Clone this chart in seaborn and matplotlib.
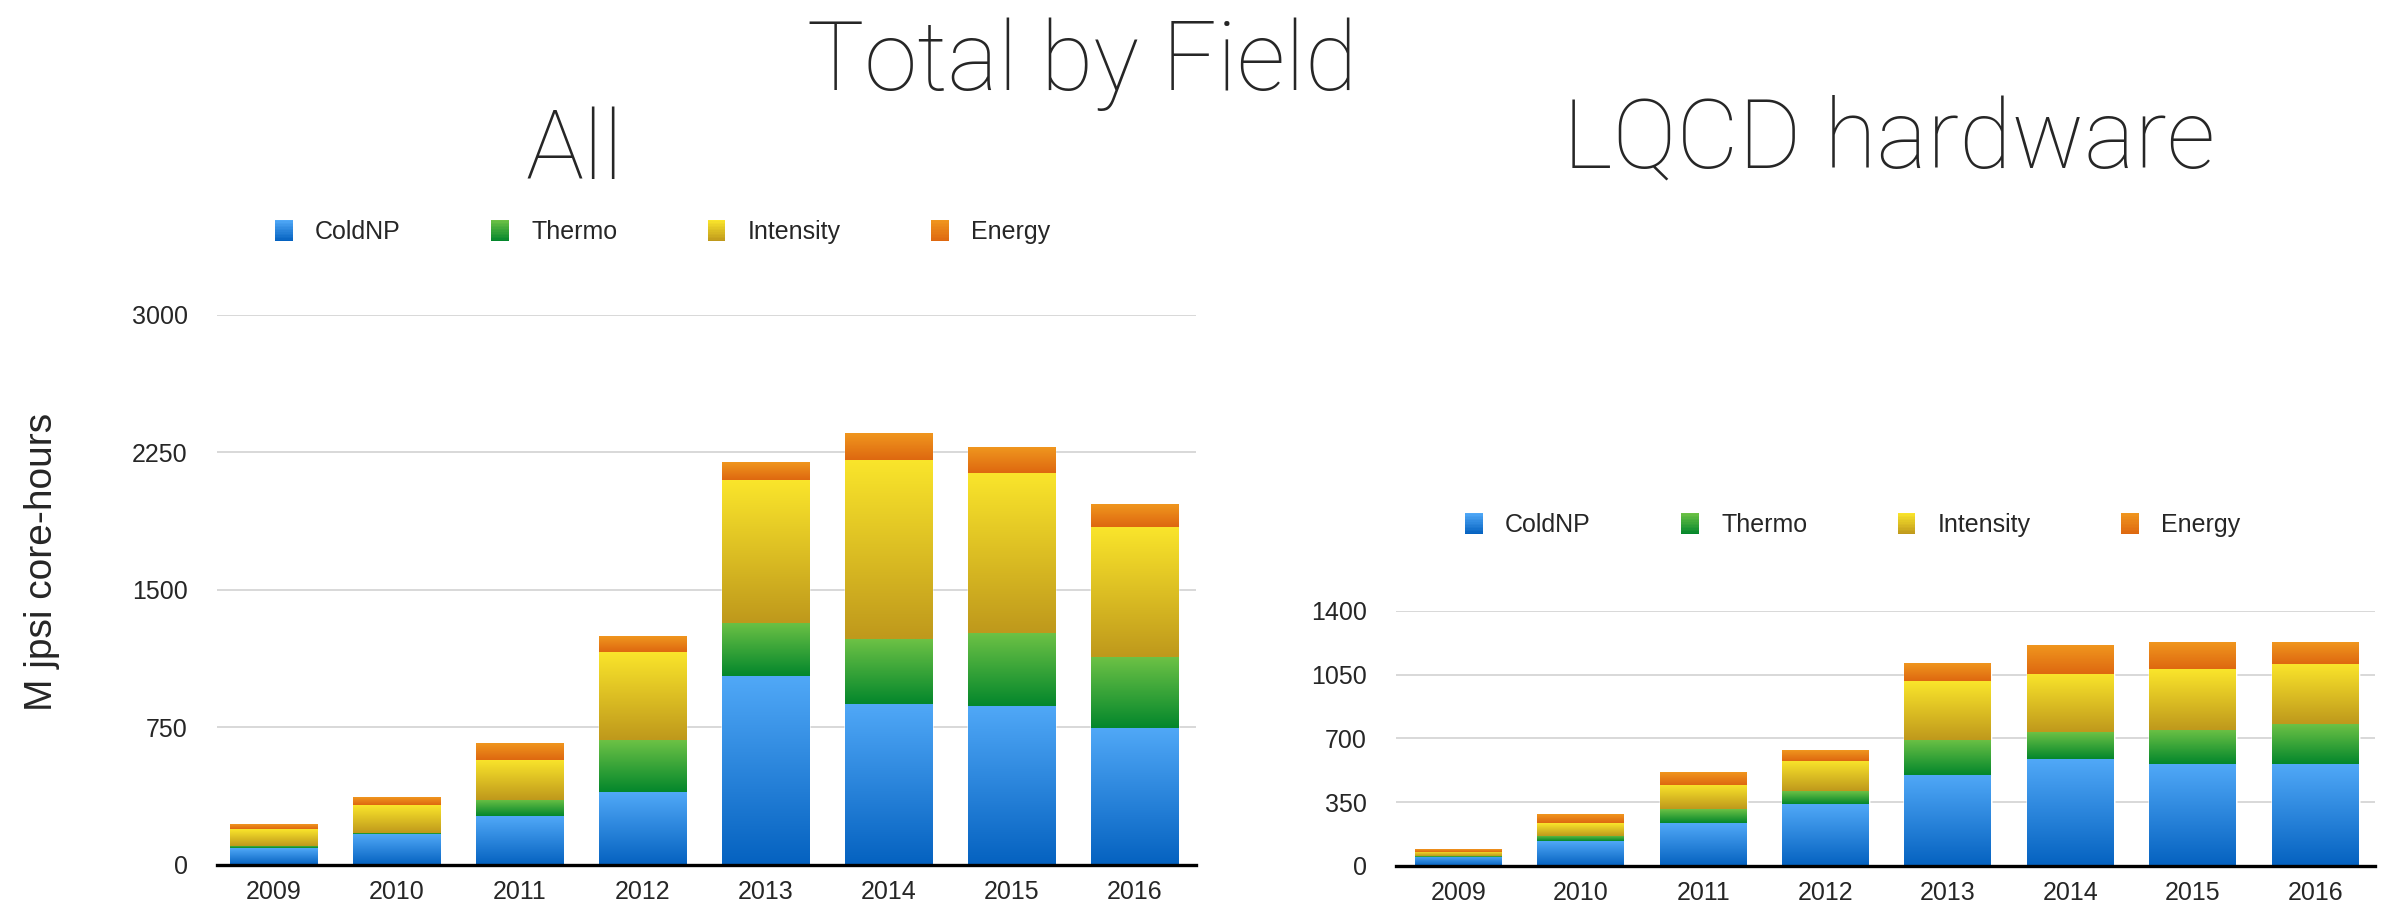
import numpy as np
import matplotlib
matplotlib.use("Agg")
import matplotlib.pyplot as plt
import seaborn as sns
from matplotlib.colors import to_rgb
from matplotlib.patches import Rectangle
from matplotlib.legend_handler import HandlerBase

# ------------------------------------------------------------------
# data (M jpsi core-hours)
# ------------------------------------------------------------------
years = ["2009", "2010", "2011", "2012", "2013", "2014", "2015", "2016"]
fields = ["ColdNP", "Thermo", "Intensity", "Energy"]

all_coldnp = [91, 168, 265, 397, 1028, 880, 869, 748]
all_thermo = [13, 8, 88, 282, 291, 351, 395, 384]
all_intensity = [90, 150, 219, 481, 779, 980, 876, 713]
all_energy = [27, 43, 88, 87, 97, 145, 140, 121]

lqcd_coldnp = [50, 137, 236, 340, 500, 585, 558, 558]
lqcd_thermo = [5, 28, 75, 70, 194, 148, 191, 219]
lqcd_intensity = [22, 71, 134, 166, 322, 322, 334, 333]
lqcd_energy = [16, 44, 71, 55, 98, 159, 147, 120]

all_ticks = [0, 750, 1500, 2250, 3000]
lqcd_ticks = [0, 350, 700, 1050, 1400]

# top / bottom colours of the keynote style gradient fills
grad_colors = {
    "ColdNP": ("#50a8f7", "#0562c0"),
    "Thermo": ("#6cc145", "#04872c"),
    "Intensity": ("#fae52b", "#bf991c"),
    "Energy": ("#f0961e", "#de6810"),
}

sns.set_style("white")
plt.rcParams["font.family"] = ["Liberation Sans", "DejaVu Sans"]


def gradient(top, bottom, n=64):
    t = np.linspace(0, 1, n)[:, None]
    c = np.array(to_rgb(top)) * (1 - t) + np.array(to_rgb(bottom)) * t
    return c[:, None, :]


class GradientHandler(HandlerBase):
    def create_artists(self, legend, orig_handle, xdescent, ydescent,
                       width, height, fontsize, trans):
        top, bottom = orig_handle.grad
        cols = gradient(top, bottom, 14)[:, 0, :]
        n = len(cols)
        arts = []
        for k, c in enumerate(cols):
            y = -ydescent + height * (1 - (k + 1) / n)
            arts.append(Rectangle((-xdescent, y), width, height / n * 1.05,
                                  facecolor=c, edgecolor="none", transform=trans))
        return arts


def draw_stack(ax, layers, ticks, xlim):
    cum = np.cumsum(np.array(layers, dtype=float), axis=0)
    # draw cumulative totals from the top layer down so each segment shows
    for i in range(len(fields) - 1, -1, -1):
        top, bottom = grad_colors[fields[i]]
        sns.barplot(x=years, y=cum[i], color=bottom, width=0.71, saturation=1,
                    errorbar=None, ax=ax, zorder=2)
    # overlay vertical gradients on every visible segment
    patches = ax.patches
    nyear = len(years)
    for i, f in enumerate(fields):
        layer = patches[(len(fields) - 1 - i) * nyear:(len(fields) - i) * nyear]
        for j, p in enumerate(layer):
            y0 = cum[i - 1][j] if i > 0 else 0
            y1 = cum[i][j]
            if y1 - y0 <= 0:
                continue
            ax.imshow(gradient(*grad_colors[f]), extent=[p.get_x(), p.get_x() + p.get_width(), y0, y1],
                      aspect="auto", interpolation="bilinear", zorder=3)
    ax.set_xlim(*xlim)
    ax.set_ylim(0, ticks[-1])
    ax.set_yticks(ticks)
    ax.set_yticklabels([str(t) for t in ticks])
    ax.yaxis.grid(True, color="#d6d6d6", lw=1.3)
    ax.set_axisbelow(True)
    for s in ["top", "right", "left"]:
        ax.spines[s].set_visible(False)
    ax.spines["bottom"].set_color("black")
    ax.spines["bottom"].set_linewidth(2.4)
    ax.spines["bottom"].set_zorder(5)
    ax.tick_params(axis="y", length=0, pad=21, labelsize=18)
    ax.tick_params(axis="x", length=0, pad=11, labelsize=18)
    ax.set_xlabel("")
    ax.set_ylabel("")


def add_legend(ax, x, y):
    handles = []
    for f in fields:
        h = Rectangle((0, 0), 1, 1)
        h.grad = grad_colors[f]
        handles.append(h)
    ax.legend(handles, fields, loc="center left", bbox_to_anchor=(x, y),
              bbox_transform=ax.figure.transFigure, ncol=4, frameon=False,
              borderpad=0, borderaxespad=0, handlelength=0.7, handleheight=0.95,
              handletextpad=0.9, columnspacing=3.62, fontsize=18,
              handler_map={h: GradientHandler() for h in handles})


fig = plt.figure(figsize=(23.81, 9.06), dpi=100)
ax1 = fig.add_axes([0.0911, 0.0453, 0.4112, 0.6071])
ax2 = fig.add_axes([0.5863, 0.0442, 0.4112, 0.2815])

draw_stack(ax1, [all_coldnp, all_thermo, all_intensity, all_energy], all_ticks, (-0.46, 7.5))
draw_stack(ax2, [lqcd_coldnp, lqcd_thermo, lqcd_intensity, lqcd_energy], lqcd_ticks, (-0.51, 7.49))

add_legend(ax1, 0.1155, 0.744)
add_legend(ax2, 0.6153, 0.4205)

title_font = dict(family=["Roboto", "Liberation Sans"], weight="light")
fig.text(0.4545, 1 - 90 / 906, "Total by Field", ha="center", va="baseline", fontsize=69, **title_font)
fig.text(0.2411, 1 - 179 / 906, "All", ha="center", va="baseline", fontsize=70, **title_font)
fig.text(0.7934, 1 - 168 / 906, "LQCD hardware", ha="center", va="baseline", fontsize=69, **title_font)

fig.text(0.0176, 1 - 562 / 906, "M jpsi core-hours", rotation=90, ha="center", va="center", fontsize=28)

fig.savefig("out.png", dpi=100)
